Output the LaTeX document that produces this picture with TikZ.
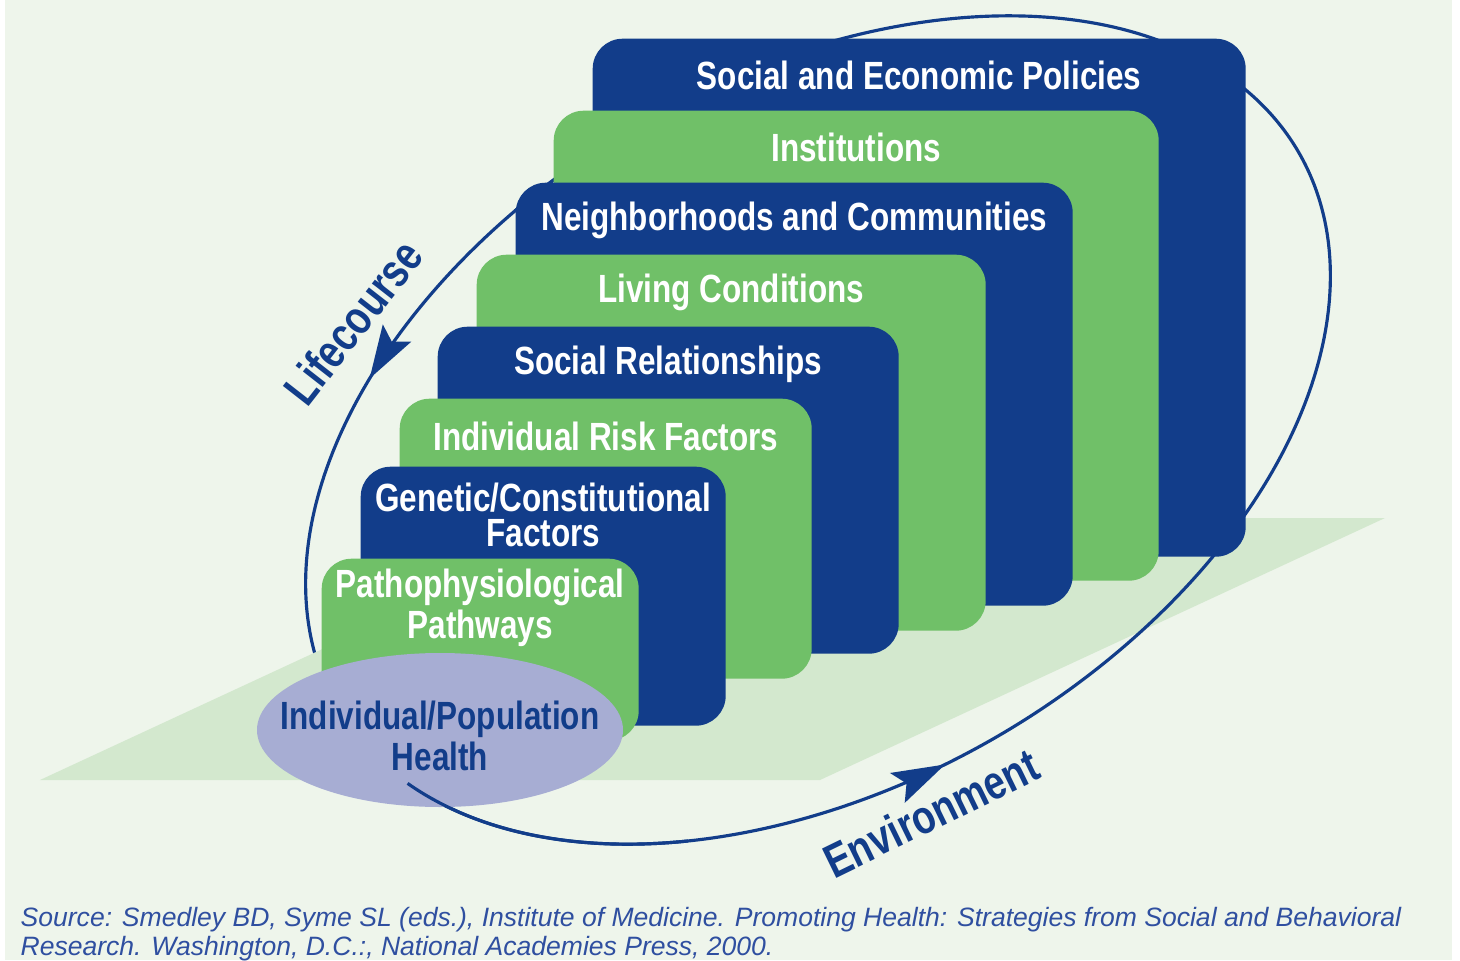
\documentclass[tikz,border=0pt]{standalone}
\usepackage{fontspec}
\setmainfont{Liberation Sans}
\newfontfamily\narrowfont[FakeStretch=0.8]{Liberation Sans}
\usetikzlibrary{positioning,shapes.geometric,arrows.meta,decorations.markings}

\definecolor{deepblue}{RGB}{18,61,138}
\definecolor{leafgreen}{RGB}{112,192,104}
\definecolor{planegreen}{RGB}{211,232,206}
\definecolor{paper}{RGB}{238,245,235}
\definecolor{lilac}{RGB}{167,173,211}
\definecolor{sourceblue}{RGB}{47,79,160}

\tikzset{
    layer/.style={rounded corners=3mm, inner sep=0pt, anchor=north west},
    bluelayer/.style={layer, fill=deepblue},
    greenlayer/.style={layer, fill=leafgreen},
    layertext/.style={text=white, align=center, inner sep=0pt,
        font=\narrowfont\bfseries\fontsize{11.2}{10}\selectfont},
    sidelabel/.style={text=deepblue, inner sep=0pt,
        font=\narrowfont\bfseries\fontsize{13.5}{16}\selectfont},
    sourcetext/.style={text=sourceblue, anchor=west, inner sep=0pt,
        font=\itshape\fontsize{7.55}{9}\selectfont},
    cycleline/.style={draw=deepblue, line width=0.9pt},
    flowarrow/.style={postaction={decorate}, decoration={markings,
        mark=at position #1 with {\arrow{Stealth[length=5.3mm, width=3.3mm, inset=1mm]}}}}
}

\begin{document}
\begin{tikzpicture}
    \useasboundingbox (0,0) rectangle (14.6,9.6);
    \fill[paper] (0.05,0) rectangle (14.52,9.6);

    % lifecourse side of the loop, runs under the plane
    \begin{scope}[shift={(8.18,5.30)}, rotate=30]
        \draw[cycleline, flowarrow=2.8cm] (100:5.55 and 3.55)
            arc[start angle=100, end angle=200, x radius=5.55, y radius=3.55];
    \end{scope}

    % ground plane
    \fill[planegreen] (0.40,1.80) -- (8.20,1.80) -- (13.85,4.42) -- (6.05,4.42) -- cycle;

    % rest of the loop, goes behind the layers
    \begin{scope}[shift={(8.18,5.30)}, rotate=30]
        \draw[cycleline, flowarrow=5.62cm] (196.5:5.55 and 3.55)
            arc[start angle=196.5, end angle=466, x radius=5.55, y radius=3.55];
    \end{scope}

    % layers, from the back to the front
    \node[bluelayer, minimum width=6.53cm, minimum height=5.18cm] (policies) at (5.92,9.22) {};
    \node[greenlayer, minimum width=6.05cm, minimum height=4.70cm] (institutions) at (5.53,8.50) {};
    \node[bluelayer, minimum width=5.57cm, minimum height=4.23cm] (neighborhoods) at (5.15,7.78) {};
    \node[greenlayer, minimum width=5.09cm, minimum height=3.76cm] (living) at (4.76,7.06) {};
    \node[bluelayer, minimum width=4.61cm, minimum height=3.27cm] (relations) at (4.37,6.34) {};
    \node[greenlayer, minimum width=4.12cm, minimum height=2.80cm] (riskfactors) at (3.99,5.62) {};
    \node[bluelayer, minimum width=3.65cm, minimum height=2.59cm] (genetic) at (3.60,4.94) {};
    \node[greenlayer, minimum width=3.17cm, minimum height=1.82cm] (patho) at (3.21,4.02) {};

    % titles on top of each layer
    \node[layertext] (policies-t) at ([yshift=-3.7mm]policies.north) {Social and Economic Policies};
    \node[layertext] (institutions-t) at ([yshift=-3.7mm]institutions.north) {Institutions};
    \node[layertext] (neighborhoods-t) at ([yshift=-3.8mm]neighborhoods.north) {Neighborhoods and Communities};
    \node[layertext] (living-t) at ([yshift=-3.8mm]living.north) {Living Conditions};
    \node[layertext] (relations-t) at ([yshift=-3.8mm]relations.north) {Social Relationships};
    \node[layertext] (riskfactors-t) at ([yshift=-3.8mm]riskfactors.north) {Individual Risk Factors};
    \node[layertext] (genetic-t) at ([yshift=-4.85mm]genetic.north) {Genetic/Constitutional\\Factors};
    \node[layertext] (patho-t) at ([yshift=-5mm]patho.north) {Pathophysiological\\Pathways};

    % the health ellipse in front
    \node[ellipse, fill=lilac, minimum width=3.66cm, minimum height=1.54cm, inner sep=0pt] (health) at (4.40,2.30) {};
    \node[layertext, text=deepblue] (health-t) at ([yshift=-0.6mm]health.center) {Individual/Population\\Health};

    % start of the environment arc, over the ellipse
    \begin{scope}[shift={(8.18,5.30)}, rotate=30]
        \draw[cycleline] (196.5:5.55 and 3.55)
            arc[start angle=196.5, end angle=235, x radius=5.55, y radius=3.55];
    \end{scope}

    \node[sidelabel, rotate=52] (lifecourse) at (3.53,6.38) {Lifecourse};
    \node[sidelabel, rotate=26] (environment) at (9.31,1.47) {Environment};

    \node[sourcetext] (source) at (0.20,0.40) {Source: Smedley BD, Syme SL (eds.), Institute of Medicine. Promoting Health: Strategies from Social and Behavioral};
    \node[sourcetext] (source-2) at (0.20,0.11) {Research. Washington, D.C.:, National Academies Press, 2000.};
\end{tikzpicture}
\end{document}
